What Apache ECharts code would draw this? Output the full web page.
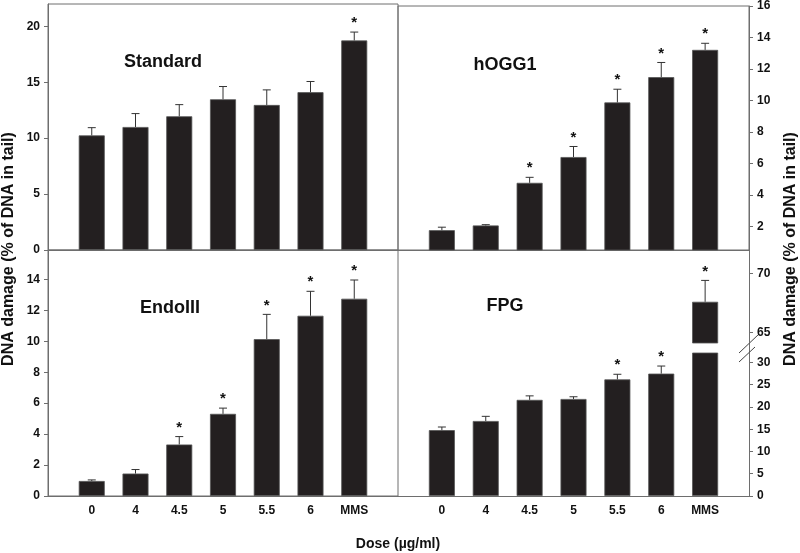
<!DOCTYPE html>
<html><head><meta charset="utf-8">
<script src="https://cdn.jsdelivr.net/npm/echarts@6/dist/echarts.min.js"></script>
<style>html,body{margin:0;padding:0;background:#fff}#c{width:800px;height:553px}</style>
</head><body><div id="c"></div>
<script>
// ---- data ----
const categories = ['0', '4', '4.5', '5', '5.5', '6', 'MMS'];

const standardMean = [10.25, 11.0, 11.96, 13.48, 12.97, 14.11, 18.74];
const standardErr  = [0.69, 1.2, 1.04, 1.14, 1.35, 0.96, 0.75];
const standardSig  = [0, 0, 0, 0, 0, 0, 1];

const hogg1Mean = [1.75, 2.05, 4.76, 6.40, 9.87, 11.48, 13.21];
const hogg1Err  = [0.19, 0.05, 0.35, 0.67, 0.84, 0.93, 0.42];
const hogg1Sig  = [0, 0, 1, 1, 1, 1, 1];

const endoMean = [0.97, 1.45, 3.33, 5.31, 10.14, 11.65, 12.75];
const endoErr  = [0.07, 0.26, 0.51, 0.37, 1.6, 1.58, 1.21];
const endoSig  = [0, 0, 1, 1, 1, 1, 1];

const fpgMean = [14.8, 16.85, 21.6, 21.8, 26.2, 27.5, 67.6];
const fpgErr  = [0.7, 1.05, 0.9, 0.5, 1.15, 1.7, 1.8];
const fpgSig  = [0, 0, 0, 0, 1, 1, 1];

const standardTicks = [0, 5, 10, 15, 20];
const hogg1Ticks = [2, 4, 6, 8, 10, 12, 14, 16];
const endoTicks = [0, 2, 4, 6, 8, 10, 12, 14];
const fpgLowTicks = [0, 5, 10, 15, 20, 25, 30];
const fpgHighTicks = [65, 70];

// ---- styles ----
const FONT = '"Liberation Sans", Arial, sans-serif';
const AXIS = '#6e6e6e';
const BAR = '#231f20';

const chart = echarts.init(document.getElementById('c'), null, {renderer: 'canvas'});

function barData(mean, lo) {
  return mean.map((v, i) => ((lo === undefined || v > lo) ? [i, v] : [i, null]));
}
function errData(mean, err, sig, lo, hi) {
  const out = [];
  mean.forEach((v, i) => {
    if ((lo === undefined || v > lo) && (hi === undefined || v < hi)) out.push([i, v, err[i], sig[i]]);
  });
  return out;
}
function errRender(params, api) {
  const x = api.value(0), m = api.value(1), e = api.value(2), s = api.value(3);
  const base = api.coord([x, m]);
  const top = api.coord([x, m + e]);
  const children = [
    {type: 'line', shape: {x1: base[0], y1: base[1], x2: top[0], y2: top[1]}, style: {stroke: '#333', lineWidth: 1}},
    {type: 'line', shape: {x1: top[0] - 4, y1: top[1], x2: top[0] + 4, y2: top[1]}, style: {stroke: '#333', lineWidth: 1}}
  ];
  if (s) {
    children.push({type: 'text', x: top[0], y: top[1] - 9,
      style: {text: '*', fill: '#111', font: 'bold 15px ' + FONT, align: 'center', verticalAlign: 'middle'}});
  }
  return {type: 'group', children};
}

function xAxis(gi, labels, line) {
  return {
    type: 'value', gridIndex: gi, min: -1, max: 7, interval: 1,
    axisLine: {show: line, onZero: false, lineStyle: {color: AXIS, width: 1}},
    axisTick: {show: false}, splitLine: {show: false},
    axisLabel: {show: labels, margin: 9, color: '#111', fontWeight: 'bold', fontSize: 12, fontFamily: FONT,
      formatter: v => (categories[v] !== undefined ? categories[v] : '')}
  };
}
function yAxis(gi, pos, min, max, ticks) {
  return {
    type: 'value', gridIndex: gi, position: pos, min, max,
    axisLine: {show: true, onZero: false, lineStyle: {color: AXIS, width: 1}},
    axisTick: {show: true, length: 4, customValues: ticks, lineStyle: {color: AXIS}},
    axisLabel: {customValues: ticks, margin: 8, color: '#111', fontWeight: 'bold', fontSize: 12, fontFamily: FONT},
    splitLine: {show: false}
  };
}
function bars(gi, data) {
  return {type: 'bar', xAxisIndex: gi, yAxisIndex: gi, data, barWidth: 26, clip: true,
    itemStyle: {color: BAR, borderColor: '#555', borderWidth: 0.8}, silent: true, animation: false, z: 2};
}
function errs(gi, data) {
  return {type: 'custom', xAxisIndex: gi, yAxisIndex: gi, data, renderItem: errRender, clip: false,
    silent: true, animation: false, z: 3};
}

const fpgHighMin = 64.13, fpgHighMax = 71.96, fpgLowMax = 32.13;

const gridStyle = {show: true, borderColor: AXIS, borderWidth: 1, backgroundColor: 'transparent', containLabel: false};

const option = {
  animation: false,
  backgroundColor: '#fff',
  grid: [
    Object.assign({left: 48, top: 4, width: 350, height: 246}, gridStyle),
    Object.assign({left: 398, top: 4, width: 351, height: 246}, gridStyle),
    Object.assign({left: 48, top: 250, width: 350, height: 246}, gridStyle),
    {left: 398, top: 250, width: 351, height: 93, show: false},
    {left: 398, top: 353, width: 351, height: 143, show: false}
  ],
  xAxis: [
    xAxis(0, false, true),
    xAxis(1, false, true),
    xAxis(2, true, true),
    Object.assign(xAxis(3, false, false), {show: false}),
    xAxis(4, true, true)
  ],
  yAxis: [
    yAxis(0, 'left', 0, 22, standardTicks),
    yAxis(1, 'right', 0.49, 16, hogg1Ticks),
    yAxis(2, 'left', 0, 15.9, endoTicks),
    yAxis(3, 'right', fpgHighMin, fpgHighMax, fpgHighTicks),
    yAxis(4, 'right', 0, fpgLowMax, fpgLowTicks)
  ],
  series: [
    bars(0, barData(standardMean)), errs(0, errData(standardMean, standardErr, standardSig)),
    bars(1, barData(hogg1Mean)), errs(1, errData(hogg1Mean, hogg1Err, hogg1Sig)),
    bars(2, barData(endoMean)), errs(2, errData(endoMean, endoErr, endoSig)),
    bars(3, barData(fpgMean, fpgHighMin)), errs(3, errData(fpgMean, fpgErr, fpgSig, fpgHighMin)),
    bars(4, barData(fpgMean)), errs(4, errData(fpgMean, fpgErr, fpgSig, undefined, fpgLowMax))
  ],
  graphic: [
    {type: 'text', x: 163, y: 62, style: {text: 'Standard', font: 'bold 18px ' + FONT, fill: '#111', align: 'center', verticalAlign: 'middle'}},
    {type: 'text', x: 505, y: 65, style: {text: 'hOGG1', font: 'bold 18px ' + FONT, fill: '#111', align: 'center', verticalAlign: 'middle'}},
    {type: 'text', x: 170, y: 308, style: {text: 'EndoIII', font: 'bold 18px ' + FONT, fill: '#111', align: 'center', verticalAlign: 'middle'}},
    {type: 'text', x: 505, y: 306, style: {text: 'FPG', font: 'bold 18px ' + FONT, fill: '#111', align: 'center', verticalAlign: 'middle'}},
    {type: 'text', x: 9, y: 249, rotation: Math.PI / 2, style: {text: 'DNA damage (% of DNA in tail)', font: 'bold 16px ' + FONT, fill: '#111', align: 'center', verticalAlign: 'middle'}},
    {type: 'text', x: 791, y: 249, rotation: Math.PI / 2, style: {text: 'DNA damage (% of DNA in tail)', font: 'bold 16px ' + FONT, fill: '#111', align: 'center', verticalAlign: 'middle'}},
    {type: 'text', x: 398, y: 544, style: {text: 'Dose (µg/ml)', font: 'bold 14px ' + FONT, fill: '#111', align: 'center', verticalAlign: 'middle'}},
    {type: 'line', shape: {x1: 749.5, y1: 343, x2: 749.5, y2: 353}, style: {stroke: AXIS, lineWidth: 1}},
    {type: 'line', shape: {x1: 739, y1: 353, x2: 759, y2: 334}, style: {stroke: '#444', lineWidth: 1}},
    {type: 'line', shape: {x1: 739, y1: 362, x2: 755, y2: 347}, style: {stroke: '#444', lineWidth: 1}}
  ]
};
chart.setOption(option);
</script>
</body></html>
